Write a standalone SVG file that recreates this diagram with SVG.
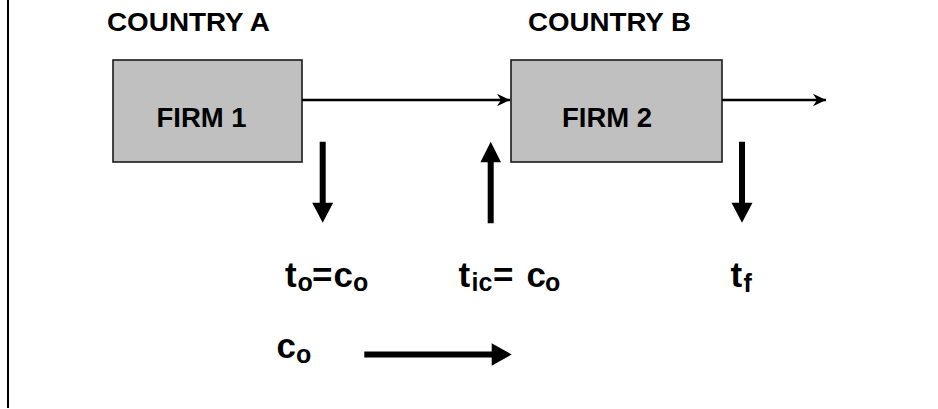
<svg xmlns="http://www.w3.org/2000/svg" width="938" height="409" viewBox="0 0 938 409">
<style>
text{font-family:"Liberation Sans",Arial,sans-serif;font-weight:bold;fill:#000}
.box{fill:#C0C0C0;stroke:#1a1a1a;stroke-width:1.6}
.lbl{font-size:27.5px}
.head{font-size:25px}
.m{font-size:35px}
.s{font-size:25px}
.thin{stroke:#000;stroke-width:2.6;fill:none}
.thick{fill:#000}
</style>
<defs>
<marker id="stealth" markerUnits="userSpaceOnUse" markerWidth="14" markerHeight="14" refX="13" refY="7" orient="auto" viewBox="0 0 14 14">
<path d="M13,7 L0,0.8 L4,7 L0,13.2 Z" fill="#000"/>
</marker>
</defs>
<line x1="8" y1="0" x2="8" y2="408" stroke="#000" stroke-width="2"/>
<g id="countryA"><text class="head" x="107" y="31" textLength="163" lengthAdjust="spacingAndGlyphs">COUNTRY A</text></g>
<g id="countryB"><text class="head" x="528" y="31" textLength="163" lengthAdjust="spacingAndGlyphs">COUNTRY B</text></g>
<g id="firm1">
<rect class="box" x="113" y="60" width="189" height="102"/>
<text class="lbl" x="156.5" y="126.7">FIRM 1</text>
</g>
<g id="firm2">
<rect class="box" x="511" y="60" width="211" height="102"/>
<text class="lbl" x="562" y="126.5">FIRM 2</text>
</g>
<g id="connectors">
<line class="thin" x1="302" y1="100" x2="510" y2="100" marker-end="url(#stealth)"/>
<line class="thin" x1="722" y1="100" x2="826" y2="100" marker-end="url(#stealth)"/>
<path class="thick" d="M319.7,141.7 H325.7 V202.7 H333.2 L322.7,222.7 L312.2,202.7 H319.7 Z"/>
<path class="thick" d="M487.7,223.3 H493.7 V162.3 H501 L490.7,141.7 L480.4,162.3 H487.7 Z"/>
<path class="thick" d="M739,141.7 H745 V202.7 H752.5 L742,222.7 L731.5,202.7 H739 Z"/>
<path class="thick" d="M364.3,351.5 H491.7 V343.3 L511.7,354.5 L491.7,365.7 V357.5 H364.3 Z"/>
</g>
<g id="label-to">
<text class="m" x="285" y="286.7">t</text>
<text class="s" x="297.5" y="291.2">o</text>
<text class="m" x="312" y="286.7">=</text>
<text class="m" x="333.5" y="286.7">c</text>
<text class="s" x="353" y="291.2">o</text>
</g>
<g id="label-tic">
<text class="m" x="458.5" y="286.7">t</text>
<text class="s" x="471.5" y="291.2">ic</text>
<text class="m" x="493" y="286.7">=</text>
<text class="m" x="526.5" y="286.7">c</text>
<text class="s" x="545" y="291.2">o</text>
</g>
<g id="label-tf">
<text class="m" x="730.5" y="286.7">t</text>
<text class="s" x="743.5" y="291.7">f</text>
</g>
<g id="label-co">
<text class="m" x="276.5" y="358.3">c</text>
<text class="s" x="296" y="362.8">o</text>
</g>
</svg>
